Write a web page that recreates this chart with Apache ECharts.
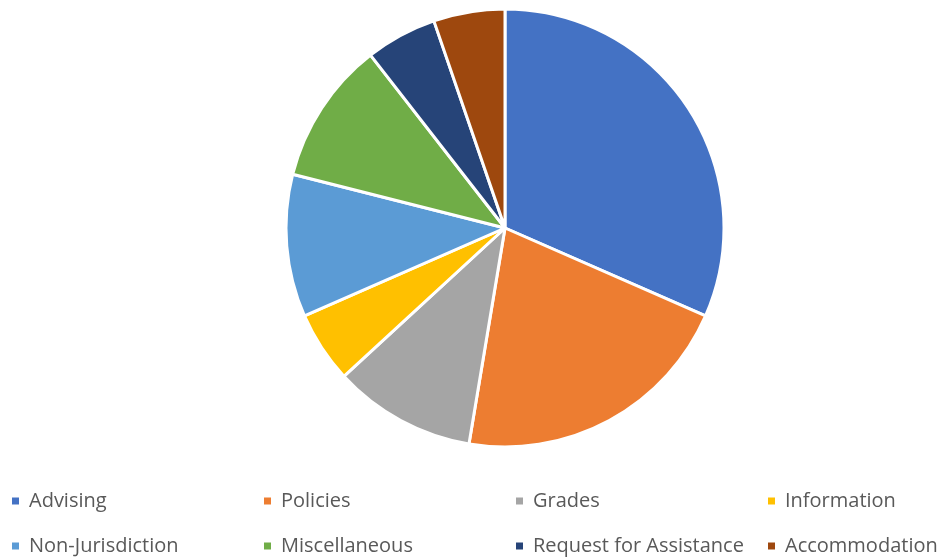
<!DOCTYPE html>
<html>
<head>
<meta charset="utf-8">
<script src="https://cdn.jsdelivr.net/npm/echarts@6/dist/echarts.min.js"></script>
<style>html,body{margin:0;padding:0;background:#fff;}#c{width:945px;height:559px;}</style>
</head>
<body>
<div id="c"></div>
<script>
const categories = ['Advising','Policies','Grades','Information','Non-Jurisdiction','Miscellaneous','Request for Assistance','Accommodation'];
const counts = [6,4,2,1,2,2,1,1];
const colors = ['#4472C4','#ED7D31','#A5A5A5','#FFC000','#5B9BD5','#70AD47','#264478','#9E480E'];

const chart = echarts.init(document.getElementById('c'));
const legends = categories.map((name, i) => ({
  data: [name],
  left: 10 + (i % 4) * 252,
  top: i < 4 ? 489 : 534,
  itemWidth: 9,
  itemHeight: 9,
  icon: 'rect',
  padding: 0,
  textStyle: { color: '#595959', fontSize: 20, fontFamily: 'Open Sans, sans-serif', lineHeight: 24, padding: [0,0,0,4] }
}));
chart.setOption({
  animation: false,
  color: colors,
  legend: legends,
  series: [{
    type: 'pie',
    center: [505, 228],
    radius: 219,
    startAngle: 90,
    clockwise: true,
    label: { show: false },
    labelLine: { show: false },
    itemStyle: { borderColor: '#fff', borderWidth: 3 },
    data: categories.map((n, i) => ({ name: n, value: counts[i] }))
  }]
});
</script>
</body>
</html>
